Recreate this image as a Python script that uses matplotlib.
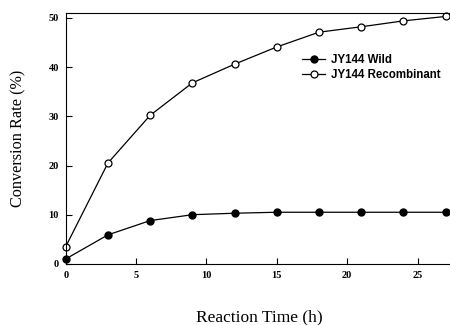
import matplotlib
matplotlib.use("Agg")
import matplotlib.pyplot as plt

hours = [0, 3, 6, 9, 12, 15, 18, 21, 24, 27]
wild = [1.0, 5.9, 8.8, 10.0, 10.3, 10.5, 10.5, 10.5, 10.5, 10.5]
recombinant = [3.5, 20.5, 30.2, 36.8, 40.6, 44.1, 47.1, 48.2, 49.4, 50.3]

x_ticks = [0, 5, 10, 15, 20, 25]
y_ticks = [0, 10, 20, 30, 40, 50]

fig = plt.figure(figsize=(4.5, 3.25), dpi=100)
ax = fig.add_axes([0.146, 0.188, 0.86, 0.772])

ax.plot(hours, wild, color="black", lw=0.9, marker="o", ms=5,
        mfc="black", mec="black", label="JY144 Wild", clip_on=False)
ax.plot(hours, recombinant, color="black", lw=0.9, marker="o", ms=5,
        mfc="white", mec="black", mew=0.9, label="JY144 Recombinant",
        clip_on=False)

ax.set_xlim(0, 27.5)
ax.set_ylim(0, 51)
ax.set_xticks(x_ticks)
ax.set_yticks(y_ticks)
ax.tick_params(direction="in", length=4, width=0.8, labelsize=7.5, pad=5)
for lab in ax.get_xticklabels() + ax.get_yticklabels():
    lab.set_family("Liberation Serif")
    lab.set_fontweight("bold")

ax.spines["right"].set_visible(False)
for s in ("left", "bottom", "top"):
    ax.spines[s].set_linewidth(0.8)

ax.set_xlabel("Reaction Time (h)", family="Liberation Serif", fontsize=12.5,
              labelpad=21)
ax.set_ylabel("Conversion Rate (%)", family="Liberation Serif", fontsize=11.7,
              labelpad=16)

ax.legend(loc="upper left", bbox_to_anchor=(0.59, 0.87), frameon=False,
          prop={"family": "Liberation Sans", "weight": "bold", "size": 8.3},
          handlelength=2.0, handletextpad=0.5, labelspacing=0.25,
          borderpad=0.2)

fig.savefig("out.png", dpi=100)
